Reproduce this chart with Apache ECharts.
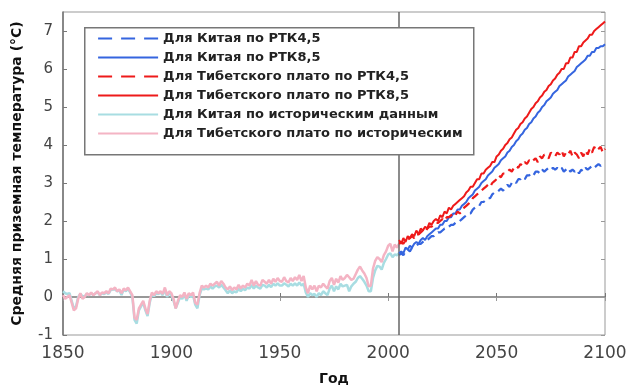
<!DOCTYPE html>
<html>
<head>
<meta charset="utf-8">
<script src="https://cdn.jsdelivr.net/npm/echarts@6/dist/echarts.min.js"></script>
<style>html,body{margin:0;padding:0;background:#fff;}#c{width:630px;height:391px;}</style>
</head>
<body>
<div id="c"></div>
<script>
// ---- data ----
const histStart = 1850;
const futureStart = 2005;
const splitYear = 2005;
const xTicks = [1850, 1900, 1950, 2000, 2050, 2100];
const yTicks = [-1, 0, 1, 2, 3, 4, 5, 6, 7];

const seriesNames = [
  'Для Китая по РТК4,5',
  'Для Китая по РТК8,5',
  'Для Тибетского плато по РТК4,5',
  'Для Тибетского плато по РТК8,5',
  'Для Китая по историческим данным',
  'Для Тибетского плато по историческим'
];

// historical, 1850..2005
const tibetHist = [
  0.05, -0.05, 0.0, 0.05, -0.15, -0.35, -0.3, -0.05, 0.1, -0.05,
  0.0, 0.1, 0.05, 0.12, 0.05, 0.1, 0.15, 0.05, 0.12, 0.1,
  0.15, 0.1, 0.22, 0.2, 0.25, 0.15, 0.2, 0.1, 0.22, 0.18,
  0.25, 0.15, 0.05, -0.55, -0.6, -0.3, -0.2, -0.1, -0.3, -0.45,
  -0.1, 0.12, 0.05, 0.15, 0.1, 0.15, 0.08, 0.25, 0.05, 0.15,
  0.1, -0.05, -0.3, -0.1, 0.05, 0.0, 0.12, -0.05, 0.1, 0.05,
  0.12, -0.15, -0.2, 0.1, 0.3, 0.25, 0.3, 0.25, 0.35, 0.3,
  0.35, 0.4, 0.3, 0.42, 0.35, 0.25, 0.2, 0.28, 0.18, 0.25,
  0.2, 0.32, 0.22, 0.3, 0.25, 0.35, 0.3, 0.45, 0.3, 0.42,
  0.32, 0.3, 0.45, 0.4, 0.35, 0.45, 0.35, 0.48, 0.4, 0.5,
  0.42, 0.4, 0.52, 0.42, 0.38, 0.5, 0.42, 0.52, 0.45, 0.58,
  0.42, 0.55, 0.25, 0.1, 0.3, 0.2, 0.3, 0.15, 0.3, 0.25,
  0.35, 0.28, 0.22, 0.42, 0.5, 0.32, 0.48, 0.38, 0.55, 0.45,
  0.5, 0.58, 0.52, 0.45, 0.48, 0.6, 0.72, 0.8, 0.7, 0.62,
  0.5, 0.28, 0.3, 0.75, 0.95, 1.05, 1.0, 0.92, 1.1, 1.2,
  1.35, 1.4, 1.2, 1.38, 1.3, 1.4
];
const chinaHist = [
  0.15, 0.1, 0.08, 0.1, -0.1, -0.3, -0.25, 0.0, 0.08, 0.02,
  0.02, 0.08, 0.05, 0.1, 0.05, 0.1, 0.12, 0.05, 0.1, 0.08,
  0.12, 0.08, 0.18, 0.2, 0.2, 0.15, 0.18, 0.05, 0.2, 0.15,
  0.22, 0.12, 0.0, -0.6, -0.7, -0.35, -0.25, -0.15, -0.35, -0.5,
  -0.15, 0.08, 0.02, 0.1, 0.08, 0.12, 0.05, 0.2, 0.0, 0.1,
  0.05, -0.1, -0.3, -0.15, 0.0, -0.05, 0.08, -0.1, 0.05, 0.0,
  0.05, -0.2, -0.3, 0.05, 0.22, 0.2, 0.22, 0.2, 0.28, 0.22,
  0.28, 0.3, 0.25, 0.32, 0.25, 0.18, 0.1, 0.18, 0.1, 0.15,
  0.12, 0.22, 0.15, 0.22, 0.18, 0.25, 0.22, 0.32, 0.22, 0.3,
  0.25, 0.22, 0.32, 0.3, 0.25, 0.32, 0.26, 0.35, 0.3, 0.36,
  0.3, 0.3, 0.36, 0.32, 0.28, 0.35, 0.3, 0.36, 0.3, 0.38,
  0.3, 0.35, 0.12, 0.0, 0.1, 0.05, 0.08, 0.0, 0.1, 0.05,
  0.15, 0.1, 0.05, 0.22, 0.3, 0.15, 0.28, 0.2, 0.35, 0.28,
  0.3, 0.32, 0.15, 0.28, 0.35, 0.4, 0.5, 0.55, 0.48, 0.4,
  0.3, 0.15, 0.15, 0.5, 0.7, 0.82, 0.8, 0.72, 0.9, 1.0,
  1.12, 1.15, 1.05, 1.12, 1.1, 1.15
];

// projections, 2005..2100
const china45 = [
  1.1, 1.15, 1.1, 1.2, 1.25, 1.2, 1.3, 1.3, 1.35, 1.4,
  1.4, 1.45, 1.5, 1.5, 1.55, 1.6, 1.6, 1.65, 1.7, 1.7,
  1.75, 1.8, 1.8, 1.85, 1.9, 1.9, 1.95, 2.0, 2.0, 2.05,
  2.1, 2.15, 2.2, 2.2, 2.3, 2.35, 2.4, 2.4, 2.5, 2.5,
  2.55, 2.6, 2.6, 2.7, 2.75, 2.75, 2.8, 2.85, 2.8, 2.9,
  2.95, 2.9, 3.0, 3.05, 3.0, 3.1, 3.1, 3.15, 3.1, 3.2,
  3.2, 3.25, 3.2, 3.3, 3.3, 3.25, 3.35, 3.3, 3.35, 3.4,
  3.35, 3.4, 3.35, 3.4, 3.35, 3.4, 3.3, 3.35, 3.4, 3.3,
  3.35, 3.3, 3.35, 3.25, 3.35, 3.3, 3.4, 3.35, 3.4, 3.45,
  3.4, 3.45, 3.5, 3.45, 3.5, 3.5
];
const china85 = [
  1.15, 1.2, 1.15, 1.3, 1.25, 1.35, 1.3, 1.4, 1.45, 1.4,
  1.5, 1.55, 1.5, 1.6, 1.65, 1.7,
  1.75, 1.8, 1.8, 1.9, 1.9, 2.0, 2.0, 2.1, 2.1, 2.2, 2.2, 2.3, 2.3, 2.4, 2.45,
  2.5, 2.6, 2.65, 2.7, 2.8, 2.85, 2.9, 3.0, 3.05, 3.1, 3.2, 3.25, 3.3, 3.4, 3.45,
  3.5, 3.6, 3.65, 3.7, 3.8, 3.85, 3.95, 4.0, 4.1, 4.15, 4.25, 4.3, 4.4, 4.45,
  4.55, 4.6, 4.7, 4.75, 4.85, 4.9, 5.0, 5.05, 5.15, 5.2, 5.25, 5.35, 5.4,
  5.45, 5.55, 5.6, 5.65, 5.7, 5.8, 5.85, 5.9, 5.95, 6.05, 6.1, 6.15, 6.2,
  6.25, 6.35, 6.35, 6.45, 6.45, 6.55, 6.55, 6.6, 6.6, 6.65
];
const tibet45 = [
  1.4, 1.45, 1.4, 1.5, 1.5, 1.55, 1.6, 1.55, 1.65, 1.65,
  1.7, 1.75, 1.7, 1.8, 1.85, 1.85, 1.9, 1.95, 1.95, 2.0,
  2.05, 2.0, 2.1, 2.1, 2.15, 2.2, 2.15, 2.25, 2.2, 2.25,
  2.35, 2.4, 2.45, 2.5, 2.6, 2.65, 2.7, 2.75, 2.8, 2.85,
  2.9, 2.95, 2.9, 3.0, 3.05, 3.1, 3.2, 3.15, 3.25, 3.25,
  3.3, 3.35, 3.3, 3.4, 3.45, 3.4, 3.5, 3.45, 3.55, 3.5,
  3.6, 3.55, 3.6, 3.65, 3.55, 3.7, 3.65, 3.75, 3.7, 3.65,
  3.8, 3.75, 3.7, 3.8, 3.75, 3.85, 3.7, 3.8, 3.75, 3.85,
  3.7, 3.8, 3.75, 3.65, 3.8, 3.7, 3.85, 3.75, 3.9, 3.8,
  3.95, 3.85, 3.9, 3.95, 3.8, 3.9
];
const tibet85 = [
  1.5, 1.4, 1.55, 1.45, 1.6, 1.55, 1.65, 1.6, 1.75, 1.65,
  1.8, 1.75, 1.85, 1.8, 1.95, 1.9,
  2.0, 2.05, 2.0, 2.15, 2.1, 2.25, 2.2, 2.35, 2.3, 2.4, 2.45, 2.5, 2.55, 2.6, 2.65,
  2.75, 2.8, 2.9, 2.9, 3.0, 3.1, 3.1, 3.25, 3.25, 3.35, 3.4, 3.45, 3.55, 3.55, 3.7,
  3.75, 3.85, 3.9, 4.0, 4.05, 4.15, 4.2, 4.3, 4.4, 4.45, 4.55, 4.6, 4.7, 4.75,
  4.85, 4.95, 5.0, 5.1, 5.15, 5.25, 5.3, 5.4, 5.45, 5.55, 5.6, 5.7, 5.75,
  5.85, 5.9, 6.0, 6.0, 6.15, 6.15, 6.3, 6.3, 6.45, 6.45, 6.6, 6.6, 6.7,
  6.75, 6.8, 6.9, 6.9, 7.0, 7.05, 7.1, 7.15, 7.2, 7.25
];

// ---- build ----
function pairs(start, arr) { return arr.map((v, i) => [start + i, v]); }

const BLUE = '#3565df', RED = '#ee1a1a', CYAN = '#a8dde2', PINK = '#f4b4c4';
const FONT = 'DejaVu Sans';

const chart = echarts.init(document.getElementById('c'), null, { renderer: 'canvas' });

function lineSeries(name, data, color, type, width, z) {
  return {
    name, type: 'line', data, symbol: 'none', showSymbol: false, z,
    lineStyle: { color, width, type }, itemStyle: { color },
    animation: false
  };
}

const series = [
  lineSeries(seriesNames[4], pairs(histStart, chinaHist), CYAN, 'solid', 2.5, 2),
  lineSeries(seriesNames[5], pairs(histStart, tibetHist), PINK, 'solid', 2.5, 3),
  lineSeries(seriesNames[0], pairs(futureStart, china45), BLUE, [8, 5], 2.2, 4),
  lineSeries(seriesNames[1], pairs(futureStart, china85), BLUE, 'solid', 2, 5),
  lineSeries(seriesNames[2], pairs(futureStart, tibet45), RED, [8, 5], 2.2, 6),
  lineSeries(seriesNames[3], pairs(futureStart, tibet85), RED, 'solid', 2, 7)
];
series[0].markLine = {
  silent: true, symbol: 'none', label: { show: false },
  lineStyle: { color: '#666', width: 1.5, type: 'solid' },
  data: [{ xAxis: splitYear }]
};

const legendStyles = [
  { color: BLUE, type: [14, 9] },
  { color: BLUE, type: 'solid' },
  { color: RED, type: [14, 9] },
  { color: RED, type: 'solid' },
  { color: CYAN, type: 'solid' },
  { color: PINK, type: 'solid' }
];

const option = {
  backgroundColor: '#fff',
  animation: false,
  grid: { left: 63, right: 25, top: 12, bottom: 44, show: true, borderColor: '#999', borderWidth: 1 },
  graphic: [{
    type: 'rect', left: 84, top: 27, z: 15, silent: true,
    shape: { width: 389, height: 127 },
    style: { fill: '#fff', stroke: '#777', lineWidth: 1.5 }
  }],
  legend: {
    show: true,
    orient: 'vertical', left: 84, top: 27,
    padding: [5, 12, 7, 13],
    itemWidth: 60, itemHeight: 14, itemGap: 6,
    z: 20,
    itemStyle: { opacity: 0 },
    textStyle: { fontFamily: FONT, fontWeight: 'bold', fontSize: 13, color: '#222' },
    data: seriesNames.map((n, i) => ({
      name: n,
      itemStyle: { opacity: 0 },
      lineStyle: { color: legendStyles[i].color, type: legendStyles[i].type, width: 2.2, opacity: 1 }
    }))
  },
  xAxis: [{
    type: 'value', min: xTicks[0], max: xTicks[xTicks.length - 1], interval: 50,
    name: 'Год', nameLocation: 'middle', nameGap: 37,
    nameTextStyle: { fontFamily: FONT, fontWeight: 'bold', fontSize: 14, color: '#111' },
    axisLine: { show: true, lineStyle: { color: '#777', width: 1.6 } },
    axisTick: { show: true, inside: true, length: 4, lineStyle: { color: '#777' } },
    axisLabel: { fontFamily: FONT, fontSize: 17, color: '#444', margin: 10, formatter: v => String(v) },
    splitLine: { show: false }
  }, {
    type: 'value', position: 'top', min: xTicks[0], max: xTicks[xTicks.length - 1], interval: 50,
    axisLine: { show: false },
    axisTick: { show: true, inside: true, length: 4, lineStyle: { color: '#999' } },
    axisLabel: { show: false }, splitLine: { show: false }
  }],
  yAxis: [{
    type: 'value', min: yTicks[0], max: 7.5, interval: 1,
    name: 'Средняя приземная температура (°C)', nameLocation: 'middle', nameGap: 39,
    nameTextStyle: { fontFamily: FONT, fontWeight: 'bold', fontSize: 14, color: '#111' },
    axisLine: { show: true, lineStyle: { color: '#777', width: 1.6 } },
    axisTick: { show: true, inside: true, length: 4, lineStyle: { color: '#777' } },
    axisLabel: { fontFamily: FONT, fontSize: 15, color: '#444', margin: 10, showMaxLabel: false,
      formatter: v => (yTicks.indexOf(v) >= 0 ? String(v) : '') },
    splitLine: { show: false }
  }, {
    type: 'value', position: 'right', min: yTicks[0], max: 7.5, interval: 1,
    axisLine: { show: false },
    axisTick: { show: true, inside: true, length: 4, lineStyle: { color: '#999' } },
    axisLabel: { show: false }, splitLine: { show: false }
  }],
  series
};
chart.setOption(option);
</script>
</body>
</html>
